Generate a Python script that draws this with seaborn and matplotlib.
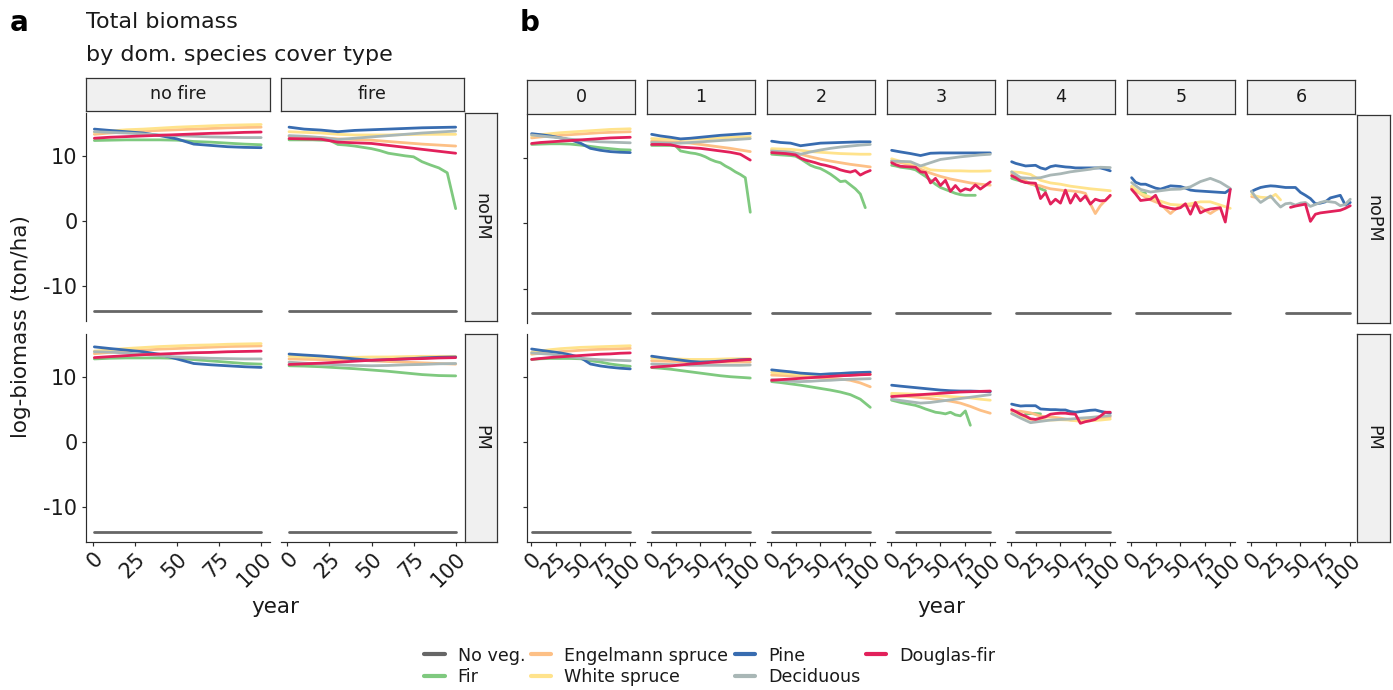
import numpy as np
import pandas as pd
import matplotlib
matplotlib.use("Agg")
import matplotlib.pyplot as plt
from matplotlib.lines import Line2D
import seaborn as sns

nan = float("nan")

# ---------------------------------------------------------------- data
SPECIES = ["No veg.", "Fir", "Engelmann spruce", "White spruce",
           "Pine", "Deciduous", "Douglas-fir"]
COLORS = ["#666666", "#7FC97F", "#FDC086", "#FFE38C",
          "#386CB0", "#A9B7B6", "#E2215B"]

# log-biomass of the no-vegetation class (constant level)
NOVEG_LOG = -13.8

# panel a: fire / no fire, rows noPM / PM (values every 10 or 5 years)
a_nofire_noPM = {
    "Fir": [12.35, 12.4, 12.45, 12.45, 12.45, 12.4, 12.2, 12.1, 11.95, 11.8, 11.7],
    "Engelmann spruce": [13.3, 13.5, 13.65, 13.8, 13.9, 14.0, 14.1, 14.2, 14.3, 14.35, 14.4],
    "White spruce": [13.6, 13.8, 14.0, 14.1, 14.25, 14.4, 14.5, 14.6, 14.7, 14.75, 14.8],
    "Pine": [14.1, 13.9, 13.7, 13.5, 13.1, 12.6, 11.8, 11.6, 11.4, 11.3, 11.25],
    "Deciduous": [13.7, 13.6, 13.5, 13.35, 13.2, 13.1, 13.0, 12.9, 12.85, 12.8, 12.8],
    "Douglas-fir": [12.7, 12.85, 12.95, 13.05, 13.15, 13.25, 13.35, 13.45, 13.5, 13.6, 13.65],
}
a_fire_noPM = {
    "Fir": [12.45, 12.45, 12.45, 12.45, 12.4, 12.4, 11.75, 11.65, 11.5, 11.3, 11.1,
            10.8, 10.4, 10.2, 10.0, 9.85, 9.1, 8.6, 8.15, 7.4, 1.9],
    "Engelmann spruce": [13.0, 12.9, 12.8, 12.6, 12.5, 12.4, 12.2, 12.0, 11.8, 11.65, 11.5],
    "White spruce": [13.7, 13.6, 13.5, 13.3, 13.2, 13.2, 13.2, 13.25, 13.3, 13.3, 13.3],
    "Pine": [14.4, 14.1, 13.95, 13.7, 13.9, 14.0, 14.1, 14.2, 14.3, 14.35, 14.4],
    "Deciduous": [13.1, 13.0, 12.8, 12.5, 12.7, 12.9, 13.1, 13.3, 13.5, 13.65, 13.8],
    "Douglas-fir": [12.65, 12.6, 12.55, 12.1, 12.0, 11.9, 11.6, 11.3, 11.0, 10.7, 10.4],
}
a_nofire_PM = {
    "Fir": [12.7, 12.8, 12.85, 12.85, 12.85, 12.8, 12.6, 12.4, 12.2, 12.0, 11.9],
    "Engelmann spruce": [13.5, 13.7, 13.9, 14.05, 14.2, 14.3, 14.4, 14.5, 14.6, 14.65, 14.7],
    "White spruce": [13.9, 14.1, 14.3, 14.45, 14.6, 14.7, 14.8, 14.85, 14.95, 15.0, 15.05],
    "Pine": [14.55, 14.3, 14.05, 13.8, 13.4, 12.7, 12.0, 11.8, 11.65, 11.5, 11.4],
    "Deciduous": [13.8, 13.75, 13.6, 13.4, 13.2, 13.0, 12.9, 12.8, 12.75, 12.7, 12.7],
    "Douglas-fir": [12.9, 13.05, 13.2, 13.35, 13.45, 13.55, 13.65, 13.7, 13.8, 13.85, 13.9],
}
a_fire_PM = {
    "Fir": [11.65, 11.6, 11.5, 11.35, 11.2, 11.0, 10.8, 10.55, 10.3, 10.15, 10.1],
    "Engelmann spruce": [12.7, 12.65, 12.6, 12.55, 12.5, 12.4, 12.3, 12.2, 12.1, 12.0, 11.9],
    "White spruce": [13.1, 13.0, 13.0, 12.95, 12.95, 13.0, 13.0, 13.05, 13.1, 13.1, 13.1],
    "Pine": [13.45, 13.3, 13.15, 12.95, 12.7, 12.5, 12.6, 12.7, 12.85, 12.95, 13.0],
    "Deciduous": [12.2, 12.05, 11.9, 11.8, 11.7, 11.65, 11.7, 11.8, 11.85, 11.95, 12.0],
    "Douglas-fir": [11.85, 11.95, 12.05, 12.2, 12.35, 12.5, 12.6, 12.7, 12.75, 12.85, 12.9],
}

# panel b: number of fires 0..6, rows noPM / PM
b0_noPM = {
    "Fir": [12.1, 12.15, 12.2, 12.2, 12.15, 12.0, 11.8, 11.6, 11.45, 11.3, 11.25],
    "Engelmann spruce": [13.1, 13.25, 13.4, 13.5, 13.6, 13.7, 13.8, 13.9, 13.95, 14.0, 14.05],
    "White spruce": [13.4, 13.6, 13.75, 13.9, 14.0, 14.1, 14.2, 14.3, 14.4, 14.45, 14.5],
    "Pine": [13.75, 13.6, 13.4, 13.1, 12.8, 12.3, 11.5, 11.2, 11.0, 10.9, 10.85],
    "Deciduous": [13.55, 13.4, 13.25, 13.1, 12.9, 12.75, 12.6, 12.5, 12.45, 12.4, 12.35],
    "Douglas-fir": [12.25, 12.4, 12.5, 12.6, 12.7, 12.8, 12.9, 13.0, 13.1, 13.15, 13.2],
}
b1_noPM = {
    "Fir": [11.95, 11.95, 11.95, 11.95, 11.95, 11.9, 11.1, 10.95, 10.8, 10.7, 10.5,
            10.2, 9.8, 9.5, 9.3, 8.8, 8.4, 7.9, 7.5, 7.0, 1.7],
    "Engelmann spruce": [12.6, 12.55, 12.5, 12.4, 12.3, 12.1, 11.9, 11.7, 11.5, 11.25, 11.0],
    "White spruce": [13.0, 12.95, 12.9, 12.85, 12.9, 12.95, 13.0, 13.1, 13.2, 13.25, 13.3],
    "Pine": [13.65, 13.4, 13.2, 12.95, 13.05, 13.2, 13.35, 13.5, 13.6, 13.7, 13.8],
    "Deciduous": [12.4, 12.35, 12.3, 12.3, 12.4, 12.5, 12.6, 12.7, 12.8, 12.9, 13.0],
    "Douglas-fir": [12.1, 12.1, 12.05, 11.7, 11.6, 11.5, 11.3, 11.1, 10.9, 10.6, 9.7],
}
b2_noPM = {
    "Fir": [10.6, 10.55, 10.5, 10.45, 10.4, 10.3, 9.9, 9.4, 8.9, 8.6, 8.4,
            8.0, 7.55, 7.0, 6.4, 6.5, 5.9, 5.3, 4.5, 2.4, nan],
    "Engelmann spruce": [11.25, 11.1, 10.95, 10.6, 10.2, 9.85, 9.55, 9.3, 9.05, 8.85, 8.65],
    "White spruce": [11.45, 11.4, 11.35, 11.2, 11.0, 10.9, 10.8, 10.7, 10.65, 10.6, 10.6],
    "Pine": [12.6, 12.4, 12.3, 11.9, 12.1, 12.3, 12.35, 12.4, 12.45, 12.5, 12.5],
    "Deciduous": [11.1, 11.0, 10.9, 10.6, 10.95, 11.25, 11.5, 11.7, 11.85, 12.0, 12.1],
    "Douglas-fir": [10.85, 10.8, 10.75, 10.7, 10.6, 10.5, 10.0, 9.7, 9.5, 9.3, 9.05,
                    8.9, 8.7, 8.5, 8.2, 8.0, 7.85, 8.1, 7.4, 7.8, 8.1],
}
b3_noPM = {
    "Fir": [8.9, 8.8, 8.6, 8.5, 8.4, 8.2, 7.7, 7.2, 6.6, 6.0, 5.5,
            5.2, 4.9, 4.6, 4.4, 4.3, 4.3, 4.3, nan, nan, nan],
    "Engelmann spruce": [9.6, 9.3, 9.0, 8.3, 7.7, 7.2, 6.8, 6.5, 6.2, 6.0, 5.85],
    "White spruce": [9.9, 9.5, 9.2, 8.8, 8.2, 8.1, 8.05, 8.05, 8.0, 8.0, 8.05],
    "Pine": [11.2, 10.95, 10.7, 10.4, 10.75, 10.8, 10.8, 10.8, 10.8, 10.8, 10.8],
    "Deciduous": [9.55, 9.5, 9.45, 8.8, 9.3, 9.8, 10.0, 10.2, 10.35, 10.5, 10.6],
    "Douglas-fir": [9.3, 9.0, 8.75, 8.7, 8.65, 8.6, 7.9, 7.8, 6.2, 6.9, 5.8,
                    6.6, 4.9, 5.8, 4.9, 5.3, 5.1, 5.9, 5.25, 5.8, 6.35],
}
b4_noPM = {
    "Fir": [6.9, 6.7, 6.5, 6.3, 6.1, 5.8, 5.3, 5.0, nan, nan, nan,
            nan, nan, nan, nan, nan, nan, nan, nan, nan, nan],
    "Engelmann spruce": [7.6, 7.3, 7.0, 6.5, 6.0, 5.9, 5.75, 5.5, 5.3, 5.2, 5.1,
                         5.0, 5.0, 4.9, 4.8, 4.6, 3.0, 1.5, 2.7, 3.5, 4.2],
    "White spruce": [7.9, 7.8, 7.5, 6.6, 6.2, 6.0, 5.7, 5.5, 5.3, 5.15, 5.0],
    "Pine": [9.45, 9.2, 9.0, 8.8, 8.85, 8.9, 8.5, 8.3, 8.7, 8.85, 8.75,
             8.65, 8.6, 8.5, 8.5, 8.5, 8.5, 8.5, 8.5, 8.3, 8.05],
    "Deciduous": [7.9, 7.0, 6.9, 7.0, 7.4, 7.6, 7.9, 8.1, 8.3, 8.6, 8.55],
    "Douglas-fir": [7.3, 7.0, 6.5, 6.25, 6.2, 6.15, 3.8, 4.7, 2.95, 3.7, 3.1,
                    5.1, 3.1, 4.5, 3.45, 4.2, 2.95, 3.7, 3.45, 3.5, 4.3],
}
b5_noPM = {
    "Fir": [5.3, 4.9, 4.7, 4.6, nan, nan, nan, nan, nan, nan, nan,
            nan, nan, nan, nan, nan, nan, nan, nan, nan, nan],
    "Engelmann spruce": [5.5, 5.0, 4.5, 4.0, 3.6, 3.3, 3.0, 2.2, 1.5, 2.2, 2.7,
                         2.7, 2.7, 2.7, 2.5, 2.0, 1.5, 2.0, 2.4, nan, nan],
    "White spruce": [5.7, 4.6, 4.0, 3.4, 2.9, 2.8, 3.0, 3.3, 3.3, 2.8, 2.3],
    "Pine": [7.0, 6.3, 6.0, 6.0, 5.7, 5.4, 5.25, 5.5, 5.75, 5.7, 5.65,
             5.4, 5.1, 5.0, 4.95, 4.9, 4.85, 4.8, 4.75, 4.7, 5.25],
    "Deciduous": [6.25, 5.2, 4.8, 5.0, 5.2, 5.25, 5.6, 6.4, 6.9, 6.3, 5.35],
    "Douglas-fir": [5.2, 4.5, 3.5, 3.6, 3.7, 4.3, 2.7, 2.5, 2.3, 2.2, 2.4,
                    3.0, 1.4, 3.2, 1.6, 2.0, 2.2, 2.3, 2.4, 0.2, 5.2],
}
b6_noPM = {
    "Engelmann spruce": [4.1, 4.0, nan, nan, nan, nan, nan, nan, nan, nan, nan,
                         nan, nan, nan, nan, nan, nan, nan, nan, nan, nan],
    "White spruce": [4.45, 4.2, 4.0, 3.95, 3.95, 4.45, 3.6, nan, nan, nan, nan,
                     nan, nan, nan, nan, nan, nan, nan, nan, nan, nan],
    "Pine": [4.9, 5.2, 5.5, 5.65, 5.75, 5.7, 5.6, 5.5, 5.5, 5.5, 4.75,
             4.3, 3.8, 3.0, 3.1, 3.3, 3.9, 4.1, 4.3, 2.8, 3.2],
    "Deciduous": [4.9, 4.0, 3.2, 3.7, 4.2, 3.3, 2.5, 3.0, 3.1, 2.8, 3.1,
                  3.2, 2.6, 2.9, 3.2, 3.4, 3.3, 3.2, 2.7, 2.9, 3.7],
    "Douglas-fir": [nan, nan, nan, nan, nan, nan, nan, nan, 2.45, 2.65, 2.8,
                    2.95, 0.3, 1.4, 1.6, 1.7, 1.8, 1.9, 2.0, 2.3, 2.7],
}
b0_PM = {
    "Fir": [12.7, 12.8, 12.85, 12.85, 12.85, 12.8, 12.5, 12.3, 12.0, 11.8, 11.65],
    "Engelmann spruce": [13.5, 13.65, 13.8, 13.9, 14.0, 14.1, 14.2, 14.25, 14.3, 14.35, 14.4],
    "White spruce": [13.8, 14.0, 14.2, 14.35, 14.45, 14.55, 14.6, 14.65, 14.7, 14.75, 14.8],
    "Pine": [14.3, 14.1, 13.9, 13.7, 13.4, 13.0, 12.0, 11.7, 11.5, 11.35, 11.25],
    "Deciduous": [13.7, 13.6, 13.5, 13.3, 13.1, 12.9, 12.75, 12.65, 12.6, 12.55, 12.5],
    "Douglas-fir": [12.7, 12.85, 13.0, 13.1, 13.2, 13.3, 13.4, 13.5, 13.55, 13.65, 13.7],
}
b1_PM = {
    "Fir": [11.45, 11.35, 11.2, 11.0, 10.8, 10.6, 10.4, 10.2, 10.05, 9.95, 9.85],
    "Engelmann spruce": [12.5, 12.45, 12.4, 12.35, 12.35, 12.3, 12.3, 12.3, 12.3, 12.3, 12.3],
    "White spruce": [12.9, 12.85, 12.8, 12.75, 12.7, 12.7, 12.7, 12.75, 12.8, 12.8, 12.8],
    "Pine": [13.2, 13.0, 12.8, 12.6, 12.4, 12.3, 12.35, 12.45, 12.55, 12.65, 12.7],
    "Deciduous": [12.0, 11.95, 11.9, 11.85, 11.8, 11.8, 11.8, 11.8, 11.8, 11.8, 11.85],
    "Douglas-fir": [11.5, 11.6, 11.7, 11.85, 12.0, 12.1, 12.25, 12.35, 12.5, 12.6, 12.7],
}
b2_PM = {
    "Fir": [9.3, 9.15, 8.95, 8.75, 8.5, 8.25, 8.0, 7.7, 7.3, 6.6, 5.35],
    "Engelmann spruce": [10.3, 10.25, 10.2, 10.1, 10.0, 9.9, 9.8, 9.7, 9.5, 9.1, 8.5],
    "White spruce": [10.7, 10.6, 10.5, 10.4, 10.35, 10.3, 10.3, 10.3, 10.35, 10.35, 10.4],
    "Pine": [11.1, 10.95, 10.8, 10.6, 10.5, 10.4, 10.5, 10.55, 10.65, 10.7, 10.75],
    "Deciduous": [9.6, 9.5, 9.35, 9.3, 9.35, 9.45, 9.5, 9.6, 9.65, 9.7, 9.75],
    "Douglas-fir": [9.5, 9.6, 9.7, 9.8, 9.9, 10.0, 10.1, 10.2, 10.25, 10.35, 10.4],
}
b3_PM = {
    "Fir": [6.45, 6.3, 6.1, 5.95, 5.8, 5.65, 5.4, 5.1, 4.85, 4.6, 4.5,
            4.35, 4.6, 4.2, 4.05, 4.8, 2.6, nan, nan, nan, nan],
    "Engelmann spruce": [7.2, 7.1, 7.0, 6.85, 6.7, 6.5, 6.3, 6.0, 5.5, 4.9, 4.45],
    "White spruce": [7.5, 7.45, 7.4, 7.3, 7.2, 7.1, 7.0, 6.9, 6.8, 6.6, 6.45],
    "Pine": [8.75, 8.6, 8.45, 8.3, 8.15, 8.0, 7.9, 7.85, 7.85, 7.8, 7.75],
    "Deciduous": [6.6, 6.4, 6.2, 6.0, 6.1, 6.3, 6.5, 6.7, 6.9, 7.1, 7.3],
    "Douglas-fir": [7.0, 7.1, 7.2, 7.3, 7.4, 7.5, 7.6, 7.7, 7.75, 7.8, 7.85],
}
b4_PM = {
    "Fir": [nan, nan, nan, 4.35, 4.4, 4.4, 4.35, nan, nan, nan, nan,
            nan, nan, nan, nan, nan, nan, nan, nan, nan, nan],
    "Engelmann spruce": [4.8, 4.75, 4.5, 4.0, 3.9, 3.7, 3.4, 3.3, 3.5, 3.7, 3.9],
    "White spruce": [4.4, 4.0, 3.5, 3.5, 3.4, 3.45, 3.4, 3.2, 3.3, 3.4, 3.55],
    "Pine": [5.85, 5.7, 5.55, 5.6, 5.6, 5.6, 5.1, 5.05, 5.0, 5.0, 4.95,
             4.95, 4.7, 4.6, 4.7, 4.8, 4.9, 4.95, 4.75, 4.6, 4.45],
    "Deciduous": [4.4, 3.7, 3.0, 3.2, 3.4, 3.5, 3.55, 3.7, 3.8, 3.95, 4.1],
    "Douglas-fir": [5.0, 4.7, 4.3, 4.0, 3.6, 3.5, 3.7, 3.9, 4.3, 4.4, 4.45,
                    4.45, 4.35, 4.3, 2.9, 3.15, 3.3, 3.5, 4.0, 4.6, 4.6],
}

# first year in which the no-vegetation class is present (None = absent)
noveg_start_a = {"noPM": [1, 1], "PM": [1, 1]}
noveg_start_b = {"noPM": [1, 1, 1, 5, 5, 5, 35], "PM": [1, 1, 1, 5, 5, None, None]}

a_cols = ["no fire", "fire"]
b_cols = ["0", "1", "2", "3", "4", "5", "6"]
rows = ["noPM", "PM"]

panel_a = {("no fire", "noPM"): a_nofire_noPM, ("fire", "noPM"): a_fire_noPM,
           ("no fire", "PM"): a_nofire_PM, ("fire", "PM"): a_fire_PM}
panel_b = {("0", "noPM"): b0_noPM, ("1", "noPM"): b1_noPM, ("2", "noPM"): b2_noPM,
           ("3", "noPM"): b3_noPM, ("4", "noPM"): b4_noPM, ("5", "noPM"): b5_noPM,
           ("6", "noPM"): b6_noPM,
           ("0", "PM"): b0_PM, ("1", "PM"): b1_PM, ("2", "PM"): b2_PM,
           ("3", "PM"): b3_PM, ("4", "PM"): b4_PM}


def year_grid(n):
    """Simulation years for a series sampled every 100/(n-1) years, starting at year 1."""
    g = np.linspace(0, 100, n)
    g[0] = 1
    return g


def build_long():
    recs = []
    for group, data, cols, starts in (("a", panel_a, a_cols, noveg_start_a),
                                      ("b", panel_b, b_cols, noveg_start_b)):
        for r in rows:
            for ci, c in enumerate(cols):
                s = starts[r][ci]
                if s is not None:
                    recs.append((group, c, r, "No veg.", s, NOVEG_LOG))
                    recs.append((group, c, r, "No veg.", 100, NOVEG_LOG))
                for sp, vals in data.get((c, r), {}).items():
                    ys = np.asarray(vals, float)
                    xs = year_grid(len(ys))
                    for x, y in zip(xs, ys):
                        if not np.isnan(y):
                            recs.append((group, c, r, sp, x, y))
    return pd.DataFrame(recs, columns=["group", "col", "row", "species", "year", "value"])


df = build_long()

# ---------------------------------------------------------------- style
sns.set_theme(style="ticks")
plt.rcParams["font.family"] = ["DejaVu Sans"]

W, H = 1393, 690
fig = plt.figure(figsize=(W / 100, H / 100), dpi=100)
fig.patch.set_facecolor("white")

TICK_FS = 15
STRIP_FS = 12.6
TITLE_FS = 16
LABEL_FS = 15.5
LEG_FS = 12.6
INK = "#1A1A1A"
AXIS_C = "#2B2B2B"
STRIP_FILL = "#F0F0F0"
YLIM = (-15.3, 16.6)
XLIM = (-3.95, 104.95)
palette = dict(zip(SPECIES, COLORS))


def box(x0, y0, x1, y1):
    return [x0 / W, 1 - y1 / H, (x1 - x0) / W, (y1 - y0) / H]


def strip(x0, y0, x1, y1, text, rot=0):
    s = fig.add_axes(box(x0, y0, x1, y1))
    s.set_xticks([])
    s.set_yticks([])
    s.set_facecolor(STRIP_FILL)
    for sp in s.spines.values():
        sp.set_visible(True)
        sp.set_edgecolor("#333333")
        sp.set_linewidth(0.9)
    s.text(0.5, 0.5, text, ha="center", va="center", rotation=rot,
           fontsize=STRIP_FS, color=INK, transform=s.transAxes)


def panel(x0, y0, x1, y1, sub, first_col, bottom_row, ylabels):
    ax = fig.add_axes(box(x0, y0, x1, y1))
    ax.set_facecolor("white")
    if len(sub):
        sns.lineplot(data=sub, x="year", y="value", hue="species",
                     hue_order=[s for s in SPECIES if s in set(sub["species"])],
                     palette=palette, estimator=None, sort=False, legend=False,
                     linewidth=2.0, ax=ax)
    ax.set_xlim(*XLIM)
    ax.set_ylim(*YLIM)
    ax.set_xlabel("")
    ax.set_ylabel("")
    ax.set_xticks([0, 25, 50, 75, 100])
    ax.set_yticks([-10, 0, 10])
    for side in ("top", "right"):
        ax.spines[side].set_visible(False)
    ax.spines["left"].set_visible(first_col)
    ax.spines["bottom"].set_visible(bottom_row)
    for side in ("left", "bottom"):
        ax.spines[side].set_color(AXIS_C)
        ax.spines[side].set_linewidth(0.85)
    ax.tick_params(axis="y", left=first_col, labelleft=ylabels, length=3.2,
                   width=0.85, color=AXIS_C, labelsize=TICK_FS, labelcolor=INK, pad=3)
    ax.tick_params(axis="x", bottom=bottom_row, labelbottom=bottom_row, length=3.2,
                   width=0.85, color=AXIS_C, labelsize=TICK_FS, labelcolor=INK, pad=2)
    if ylabels:
        ax.set_yticklabels(["-10", "0", "10"])
    if bottom_row:
        ax.set_xticklabels(["0", "25", "50", "75", "100"], rotation=45,
                           ha="right", va="top", rotation_mode="anchor")
    ax.grid(False)
    return ax


# ---------------------------------------------------------------- panel a
a_x = [(86, 269.5), (280.7, 464)]
a_y = [(112.8, 320.8), (333.5, 541.5)]
for ri, r in enumerate(rows):
    for ci, c in enumerate(a_cols):
        sub = df[(df.group == "a") & (df.col == c) & (df.row == r)]
        panel(a_x[ci][0], a_y[ri][0], a_x[ci][1], a_y[ri][1], sub,
              first_col=(ci == 0), bottom_row=(ri == 1), ylabels=(ci == 0))
    strip(465, a_y[ri][0], 497, a_y[ri][1], r, rot=-90)
for ci, c in enumerate(a_cols):
    strip(a_x[ci][0], 77.7, a_x[ci][1], 111.2, c)

# ---------------------------------------------------------------- panel b
b_y = [(115.1, 323.1), (334.0, 542.0)]
b_x = [(526.7 + 120 * i, 635.2 + 120 * i) for i in range(7)]
for ri, r in enumerate(rows):
    for ci, c in enumerate(b_cols):
        sub = df[(df.group == "b") & (df.col == c) & (df.row == r)]
        panel(b_x[ci][0], b_y[ri][0], b_x[ci][1], b_y[ri][1], sub,
              first_col=(ci == 0), bottom_row=(ri == 1), ylabels=False)
    strip(1357, b_y[ri][0], 1390, b_y[ri][1], r, rot=-90)
for ci, c in enumerate(b_cols):
    strip(b_x[ci][0], 80, b_x[ci][1], 113.5, c)

# ---------------------------------------------------------------- titles and labels
def ftext(x, y, s, **kw):
    fig.text(x / W, 1 - y / H, s, **kw)


ftext(10, 31, "a", fontsize=20, fontweight="bold", color="black", va="baseline")
ftext(520, 31, "b", fontsize=20, fontweight="bold", color="black", va="baseline")
ftext(86, 28.3, "Total biomass", fontsize=TITLE_FS, color=INK, va="baseline")
ftext(86, 61, "by dom. species cover type", fontsize=TITLE_FS, color=INK, va="baseline")
ftext(21, 327, "log-biomass (ton/ha)", fontsize=LABEL_FS, color=INK,
      rotation=90, ha="center", va="center")
ftext(275, 607, "year", fontsize=LABEL_FS, color=INK, ha="center", va="center")
ftext(941, 607, "year", fontsize=LABEL_FS, color=INK, ha="center", va="center")

# ---------------------------------------------------------------- legend
handles = [Line2D([0], [0], color=c, lw=3.0) for c in COLORS]
fig.legend(handles, SPECIES, ncol=4, loc="center",
           bbox_to_anchor=(710 / W, 1 - 666.5 / H), frameon=False,
           fontsize=LEG_FS, handlelength=1.15, handletextpad=0.75,
           columnspacing=0.35, labelspacing=0.22, borderpad=0,
           labelcolor=INK)

fig.savefig("out.png", dpi=100, facecolor="white")
